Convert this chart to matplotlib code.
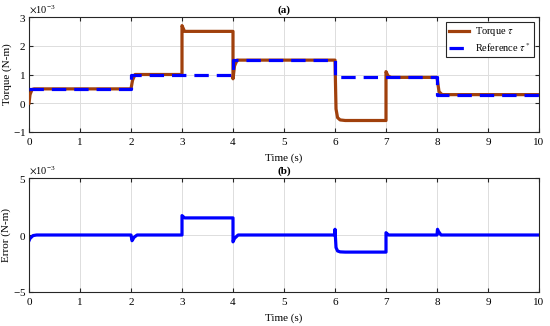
import matplotlib.pyplot as plt
import matplotlib.ticker as mticker

plt.rcParams['font.family'] = ['Liberation Serif', 'DejaVu Serif']
plt.rcParams['mathtext.fontset'] = 'stix'

# values in units of 1e-3 N-m
SCALE = 1e-3

t_torque = [0, 0.02, 0.06, 0.1, 2.0, 2.03, 2.08, 2.12, 3.0, 3.0, 3.05, 4.0, 4.0,
            4.03, 4.08, 6.0, 6.02, 6.05, 6.1, 6.2, 7.0, 7.0, 7.04, 7.1, 8.0, 8.04, 8.1, 10]
torque = [0, 0.3, 0.48, 0.5, 0.5, 0.8, 1.0, 1.0, 1.0, 2.7, 2.5, 2.5, 0.85,
          1.3, 1.5, 1.5, -0.2, -0.5, -0.58, -0.6, -0.6, 1.1, 0.95, 0.9, 0.9, 0.4, 0.3, 0.3]

t_ref = [0, 2, 4, 6, 8, 10]
reference = [0.5, 1.0, 1.5, 0.9, 0.3, 0.3]

t_err = [0, 0.02, 0.08, 0.15, 2.0, 2.02, 2.06, 2.12, 3.0, 3.0, 3.05, 4.0, 4.0,
         4.03, 4.1, 6.0, 6.0, 6.02, 6.05, 6.1, 6.2, 7.0, 7.0, 7.05, 8.0, 8.01, 8.03, 8.08, 10]
error = [-0.5, -0.3, -0.05, 0, 0, -0.5, -0.2, 0, 0, 1.7, 1.5, 1.5, -0.6,
         -0.3, 0, 0, 0.5, -1.1, -1.4, -1.48, -1.5, -1.5, 0.2, 0, 0, 0.5, 0.3, 0, 0]

fig = plt.figure(figsize=(5.5, 3.26), dpi=100)
ax1 = fig.add_axes([29 / 550, 1 - 132 / 326, 510 / 550, 115 / 326])
ax2 = fig.add_axes([29 / 550, 1 - 292 / 326, 510 / 550, 114 / 326])

brown = '#A0400C'
blue = '#0000FF'

ax1.plot(t_torque, [v * SCALE for v in torque], color=brown, lw=2.3,
         label=r'Torque $\tau$', zorder=3)
ax1.plot(t_ref, [v * SCALE for v in reference], color=blue, lw=2.3,
         ls=(0, (4.5, 2.5)), drawstyle='steps-post',
         label=r'Reference $\tau^*$', zorder=4)
ax1.set_ylim(-1e-3, 3e-3)
ax1.set_yticks([-1e-3, 0, 1e-3, 2e-3, 3e-3])
ax1.set_ylabel('Torque (N-m)', fontsize=8, labelpad=1)
ax1.set_title('(a)', fontsize=8, fontweight='bold', pad=3)
leg = ax1.legend(loc='upper right', fontsize=7.5, frameon=True, fancybox=False,
                 edgecolor='#262626', framealpha=1, handlelength=1.9,
                 borderpad=0.3, labelspacing=0.25, handletextpad=0.6,
                 borderaxespad=0.5)
leg.get_frame().set_linewidth(0.8)

ax2.plot(t_err, [v * SCALE for v in error], color=blue, lw=2.3)
ax2.set_ylim(-5e-3, 5e-3)
ax2.set_yticks([-5e-3, 0, 5e-3])
ax2.set_ylabel('Error (N-m)', fontsize=8, labelpad=1)
ax2.set_title('(b)', fontsize=8, fontweight='bold', pad=3)

for ax in (ax1, ax2):
    ax.set_xlim(0, 10)
    ax.set_xticks(range(0, 11))
    ax.set_xlabel('Time (s)', fontsize=8, labelpad=5)
    ax.grid(True, color='#DDDDDD', lw=0.7)
    ax.set_axisbelow(True)
    ax.tick_params(direction='in', top=True, right=True, labelsize=8,
                   length=3, color='#262626', pad=2)
    ax.tick_params(axis='x', pad=4)
    fmt = mticker.ScalarFormatter(useMathText=True)
    fmt.set_powerlimits((-2, 2))
    ax.yaxis.set_major_formatter(fmt)
    ax.yaxis.get_offset_text().set_fontsize(7.5)
    for s in ax.spines.values():
        s.set_color('#262626')
        s.set_linewidth(0.8)

fig.savefig('out.png', dpi=100)
